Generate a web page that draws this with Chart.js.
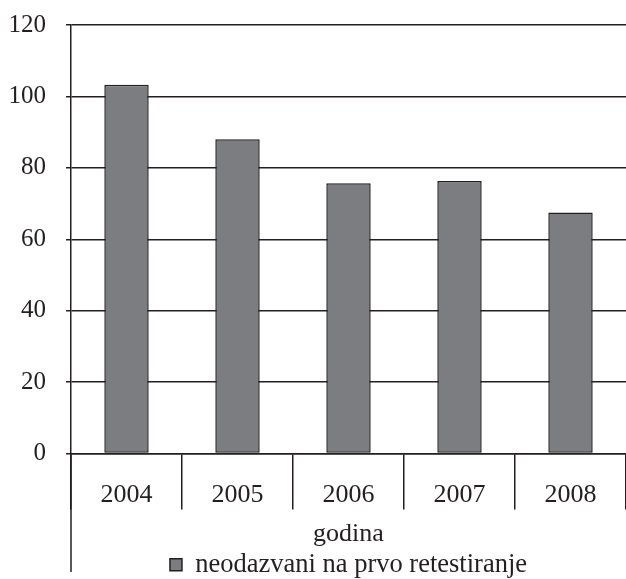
<!DOCTYPE html>
<html>
<head>
<meta charset="utf-8">
<script src="https://cdn.jsdelivr.net/npm/chart.js@4/dist/chart.umd.min.js"></script>
<style>
  html, body { margin: 0; padding: 0; background: #fff; }
</style>
</head>
<body>
<canvas id="c" width="626" height="579" style="width:626px;height:579px;display:block"></canvas>
<script>
// Categories and series values
const years = ['2004', '2005', '2006', '2007', '2008'];
const neodazvani = [103.3, 88, 75.7, 76.3, 67.5];
const seriesLabel = 'neodazvani na prvo retestiranje';
const xTitle = 'godina';

const ink = '#231f20';
const barFill = '#7c7d81';
const serif = '"Liberation Serif", "Times New Roman", Times, serif';

Chart.defaults.font.family = serif;
Chart.defaults.color = ink;

// Extends the y-axis line down past the category labels to the legend row
const axisExtension = {
  id: 'axisExtension',
  afterDraw(chart) {
    const y = chart.scales.y;
    const ctx = chart.ctx;
    ctx.save();
    ctx.strokeStyle = ink;
    ctx.lineWidth = 1.5;
    ctx.beginPath();
    ctx.moveTo(y.right, chart.chartArea.bottom);
    ctx.lineTo(y.right, chart.height - 7);
    ctx.stroke();
    ctx.restore();
  }
};

const chart = new Chart(document.getElementById('c'), {
  type: 'bar',
  data: {
    labels: years,
    datasets: [{
      label: seriesLabel,
      data: neodazvani,
      backgroundColor: barFill,
      borderColor: ink,
      borderWidth: 1.5,
      borderSkipped: false,
      barPercentage: 0.4,
      categoryPercentage: 1.0
    }]
  },
  options: {
    responsive: false,
    animation: false,
    devicePixelRatio: 1,
    font: { family: serif, size: 26 },
    color: ink,
    layout: { padding: { top: 0, right: 0, left: 0, bottom: -9 } },
    plugins: {
      tooltip: { enabled: false },
      legend: {
        position: 'bottom',
        fullSize: false,
        labels: {
          font: { family: serif, size: 26.5 },
          color: ink,
          boxWidth: 12,
          boxHeight: 12,
          padding: 0
        }
      }
    },
    scales: {
      x: {
        offset: true,
        grid: {
          offset: true,
          drawOnChartArea: false,
          tickLength: 56,
          color: ink,
          lineWidth: 1.5
        },
        border: { display: true, color: ink, width: 1.5 },
        ticks: {
          font: { family: serif, size: 26 },
          color: ink,
          padding: -30,
          maxRotation: 0
        },
        title: {
          display: true,
          text: xTitle,
          font: { family: serif, size: 26 },
          color: ink,
          padding: { top: 0, bottom: 2 }
        },
        afterFit(s) { s.height = 98; }
      },
      y: {
        min: 0,
        max: 120,
        ticks: {
          stepSize: 20,
          font: { family: serif, size: 25, lineHeight: 0.4 },
          color: ink,
          padding: 20
        },
        grid: {
          color: ink,
          lineWidth: 1.5,
          tickLength: 5
        },
        border: { display: true, color: ink, width: 1.5 },
        afterFit(s) { s.width = 71; }
      }
    }
  },
  plugins: [axisExtension]
});

// Redraw once the serif face is available to the canvas
if (document.fonts && document.fonts.load) {
  Promise.all([
    document.fonts.load('26px "Liberation Serif"'),
    document.fonts.load('25px "Liberation Serif"')
  ]).then(() => chart.update(), () => chart.update());
}
</script>
</body>
</html>
